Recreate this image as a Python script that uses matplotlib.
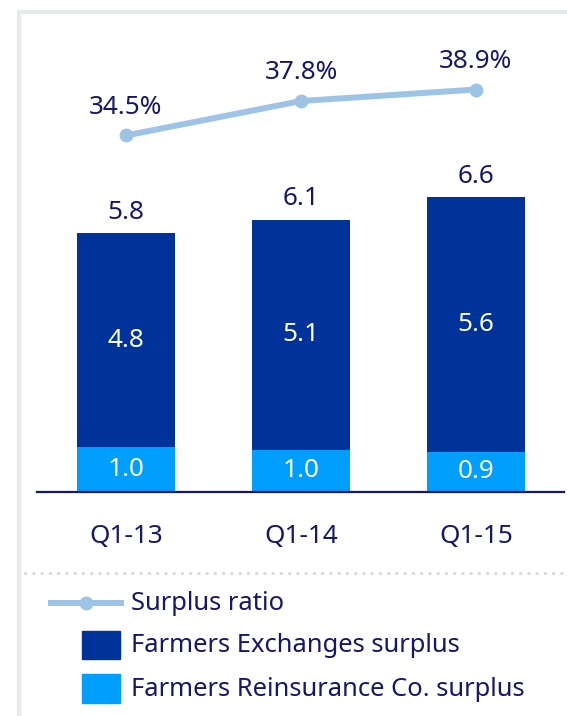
import numpy as np
import matplotlib
matplotlib.use("Agg")
import matplotlib.pyplot as plt
from matplotlib.lines import Line2D
from matplotlib.patches import Rectangle

plt.rcParams['font.family'] = ['Noto Sans', 'DejaVu Sans']

# dati
quarters = ['Q1-13', 'Q1-14', 'Q1-15']
reinsurance = [1.0, 0.95, 0.9]
exchanges = [4.8, 5.15, 5.7]
reinsurance_labels = ['1.0', '1.0', '0.9']
exchanges_labels = ['4.8', '5.1', '5.6']
total_labels = ['5.8', '6.1', '6.6']
surplus_ratio = [34.5, 37.8, 38.9]

legend_names = ['Surplus ratio', 'Farmers Exchanges surplus',
                'Farmers Reinsurance Co. surplus']

# colori
dark_blue = '#003399'
light_blue = '#009fff'
ratio_col = '#9dc3e6'
text_col = '#16166a'
frame_col = '#e6eaea'

W, H = 567, 716
fig = plt.figure(figsize=(W / 100, H / 100), dpi=100)


def px_box(x0, y0, x1, y1):
    # pixel (dall'alto) -> coordinate figura
    return [x0 / W, 1 - y1 / H, (x1 - x0) / W, (y1 - y0) / H]


ax = fig.add_axes(px_box(37, 10, 564, 492))
x = np.arange(len(quarters))
width = 0.56
fs = 18.8

ax.bar(x, reinsurance, width, color=light_blue, zorder=2)
ax.bar(x, exchanges, width, bottom=reinsurance, color=dark_blue, zorder=2)

totals = np.array(reinsurance) + np.array(exchanges)
for i in range(len(quarters)):
    ax.text(x[i], reinsurance[i] / 2, reinsurance_labels[i], color='white',
            ha='center', va='center', fontsize=fs)
    ax.text(x[i], reinsurance[i] + exchanges[i] / 2, exchanges_labels[i],
            color='white', ha='center', va='center', fontsize=fs)
    ax.annotate(total_labels[i], (x[i], totals[i]), xytext=(0, 15),
                textcoords='offset points', ha='center', va='center',
                color=text_col, fontsize=fs)

ax.set_xlim(-0.509, 2.503)
ax.set_ylim(0, 10.8)
for s in ['top', 'right', 'left']:
    ax.spines[s].set_visible(False)
ax.spines['bottom'].set_color(text_col)
ax.spines['bottom'].set_linewidth(1.6)
ax.set_yticks([])
ax.set_xticks(x)
ax.set_xticklabels(quarters, fontsize=fs, color=text_col)
ax.tick_params(axis='x', length=0, pad=23)
ax.patch.set_alpha(0)

ax2 = ax.twinx()
ax2.plot(x, surplus_ratio, color=ratio_col, lw=4.3, marker='o', ms=9,
         solid_capstyle='round', zorder=3)
for i, v in enumerate(surplus_ratio):
    ax2.annotate(f'{v:.1f}%', (x[i], v), xytext=(0, 20.5),
                 textcoords='offset points', ha='center', va='center',
                 color=text_col, fontsize=fs)
ax2.set_ylim(0.38, 46.51)
ax2.set_yticks([])
for s in ax2.spines.values():
    s.set_visible(False)

# cornice, separatore e legenda disegnati in coordinate pixel
lax = fig.add_axes([0, 0, 1, 1], zorder=-1)
lax.set_xlim(0, W)
lax.set_ylim(H, 0)
lax.axis('off')
lax.plot([19, 19, W], [H, 11.5, 11.5], color=frame_col, lw=3,
         solid_joinstyle='miter')
lax.plot([25, W], [573, 573], color='#d5dada', lw=2.2,
         linestyle=(0, (0.1, 2.6)), dash_capstyle='round')

leg = fig.add_axes([0, 0, 1, 1])
leg.set_xlim(0, W)
leg.set_ylim(H, 0)
leg.axis('off')
leg.add_line(Line2D([51, 121], [603, 603], color=ratio_col, lw=4.3))
leg.add_line(Line2D([86], [603], color=ratio_col, marker='o', ms=9))
leg.add_patch(Rectangle((82, 631), 38, 28, color=dark_blue))
leg.add_patch(Rectangle((82, 674), 38, 29, color=light_blue))
for name, yy in zip(legend_names, [603, 646, 689]):
    leg.text(131, yy, name, ha='left', va='center', color=text_col,
             fontsize=18.4)

fig.savefig('out.png', dpi=100)
